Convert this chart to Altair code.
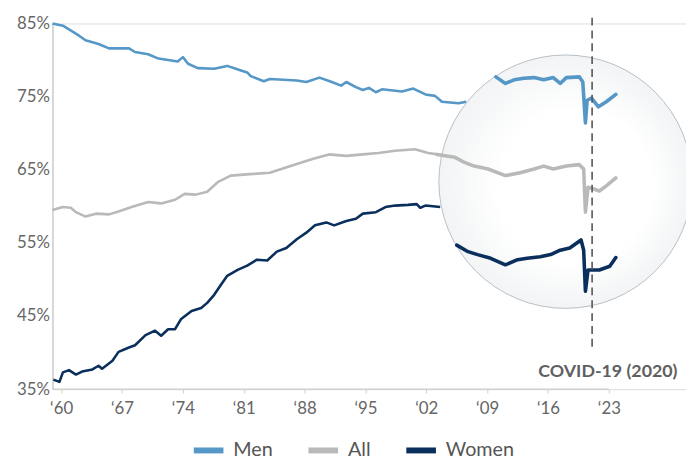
import altair as alt
import pandas as pd

SERIES = ["Men", "All", "Women"]
COLORS = ["#5597c6", "#b9b9b9", "#0a2f5c"]

TICK_YEARS = [1960, 1967, 1974, 1981, 1988, 1995, 2002, 2009, 2016, 2023]
TICK_LABELS = ["‘60", "‘67", "‘74", "‘81", "‘88", "‘95", "‘02", "‘09", "‘16", "‘23"]
Y_TICKS = [35, 45, 55, 65, 75, 85]

# ---- main series ----
MEN_YEARS = [1959.0, 1960.2, 1960.9, 1962.1, 1962.8, 1964.3, 1965.5, 1967.8, 1968.5, 1970.0,
             1971.2, 1973.4, 1974.0, 1974.6, 1975.7, 1977.6, 1979.1, 1980.6, 1981.4, 1981.8,
             1983.3, 1984.0, 1987.1, 1988.2, 1989.7, 1990.9, 1992.2, 1992.8, 1993.9, 1994.7,
             1995.4, 1996.2, 1996.9, 1999.2, 2000.5, 2001.9, 2003.0, 2003.8, 2005.7, 2006.6]
MEN_VALUES = [85.0, 84.7, 84.2, 83.3, 82.7, 82.2, 81.6, 81.6, 81.1, 80.8,
              80.2, 79.8, 80.4, 79.5, 78.9, 78.8, 79.2, 78.6, 78.3, 77.8,
              77.1, 77.4, 77.2, 77.0, 77.6, 77.1, 76.5, 77.0, 76.3, 75.9,
              76.2, 75.6, 76.0, 75.7, 76.1, 75.3, 75.1, 74.3, 74.1, 74.3]

ALL_YEARS = [1959.0, 1960.2, 1961.1, 1961.7, 1962.8, 1964.0, 1965.5, 1966.6, 1968.1, 1970.0,
             1971.5, 1973.1, 1974.2, 1975.5, 1976.8, 1978.0, 1979.5, 1981.7, 1984.0, 1987.1,
             1989.0, 1990.8, 1992.8, 1994.7, 1996.5, 1998.4, 2000.7, 2002.2, 2003.9]
ALL_VALUES = [59.5, 59.9, 59.8, 59.2, 58.6, 59.0, 58.9, 59.3, 59.9, 60.6,
              60.4, 60.9, 61.7, 61.6, 62.0, 63.3, 64.2, 64.4, 64.6, 65.8,
              66.5, 67.1, 66.9, 67.1, 67.3, 67.6, 67.8, 67.3, 67.0]

WOMEN_YEARS = [1959.1, 1959.8, 1960.2, 1960.9, 1961.7, 1962.4, 1963.6, 1964.3, 1964.7, 1965.9,
               1966.6, 1967.8, 1968.5, 1969.7, 1970.8, 1971.5, 1972.3, 1973.1, 1973.8, 1975.0,
               1976.1, 1976.8, 1977.6, 1978.4, 1979.1, 1980.3, 1981.4, 1982.5, 1983.7, 1984.8,
               1985.9, 1987.1, 1988.2, 1989.2, 1990.5, 1991.4, 1992.8, 1993.9, 1994.7, 1996.2,
               1997.3, 1998.4, 1999.9, 2000.9, 2001.3, 2001.9, 2003.6]
WOMEN_VALUES = [36.3, 36.0, 37.3, 37.6, 37.0, 37.4, 37.7, 38.2, 37.8, 38.9,
                40.1, 40.7, 41.0, 42.4, 43.0, 42.3, 43.2, 43.2, 44.6, 45.7,
                46.1, 46.8, 47.9, 49.3, 50.5, 51.3, 51.9, 52.7, 52.6, 53.8,
                54.3, 55.5, 56.4, 57.4, 57.8, 57.4, 58.0, 58.3, 59.0, 59.2,
                59.9, 60.1, 60.2, 60.3, 59.8, 60.1, 59.9]

# ---- magnified series inside the lens ----
MEN_LENS_YEARS = [2010.0, 2011.1, 2012.1, 2013.2, 2014.4, 2015.5, 2016.6, 2017.4, 2018.1, 2019.6,
                  2020.0, 2020.3, 2020.5, 2021.0, 2021.8, 2022.7, 2023.8]
MEN_LENS_VALUES = [77.7, 76.8, 77.3, 77.5, 77.6, 77.3, 77.6, 76.8, 77.6, 77.7,
                   77.0, 71.4, 74.5, 74.8, 73.6, 74.3, 75.3]
ALL_LENS_YEARS = [2003.2, 2005.3, 2006.4, 2007.5, 2009.1, 2011.1, 2012.8, 2014.4, 2015.5, 2016.6,
                  2018.1, 2019.6, 2020.1, 2020.3, 2020.6, 2021.2, 2021.9, 2022.7, 2023.8]
ALL_LENS_VALUES = [67.1, 66.7, 66.0, 65.5, 65.1, 64.2, 64.6, 65.1, 65.5, 65.1,
                   65.5, 65.7, 65.1, 59.2, 62.6, 62.4, 62.1, 62.8, 63.9]
WOMEN_LENS_YEARS = [2005.5, 2006.8, 2007.9, 2009.4, 2011.1, 2012.5, 2013.6, 2015.1, 2016.3, 2017.4,
                    2018.5, 2019.8, 2020.1, 2020.3, 2020.6, 2021.9, 2023.1, 2023.8]
WOMEN_LENS_VALUES = [54.7, 53.8, 53.4, 52.9, 52.0, 52.7, 52.9, 53.1, 53.4, 54.0,
                     54.3, 55.4, 54.0, 48.4, 51.3, 51.3, 51.8, 53.0]

COVID_YEAR = 2021.07
COVID_LABEL = "COVID-19 (2020)"
LENS_CENTER = (2018.02, 63.37)


def frame(name, years, values):
    return pd.DataFrame({"series": name, "year": years, "pct": values,
                         "order": list(range(len(years)))})


main_df = pd.concat([frame("Men", MEN_YEARS, MEN_VALUES),
                     frame("All", ALL_YEARS, ALL_VALUES),
                     frame("Women", WOMEN_YEARS, WOMEN_VALUES)])
lens_df = pd.concat([frame("Men", MEN_LENS_YEARS, MEN_LENS_VALUES),
                     frame("All", ALL_LENS_YEARS, ALL_LENS_VALUES),
                     frame("Women", WOMEN_LENS_YEARS, WOMEN_LENS_VALUES)])

FONT = "Lato"
label_expr = " : ".join(
    f"datum.value == {y} ? '{l}'" for y, l in zip(TICK_YEARS, TICK_LABELS)
) + " : ''"

x_scale = alt.Scale(domain=[1959.0, 2031.87], nice=False, zero=False)
y_scale = alt.Scale(domain=[35, 85], nice=False, zero=False)
color_scale = alt.Scale(domain=SERIES, range=COLORS)

x_axis = alt.Axis(values=TICK_YEARS, labelExpr=label_expr, domain=False, grid=False,
                  ticks=True, tickColor="#cfcfcf", tickSize=4, tickWidth=1,
                  labelFontSize=17, labelColor="#666666", labelFont=FONT,
                  labelPadding=8, title=None)
y_axis = alt.Axis(values=Y_TICKS, labelExpr="datum.value + '%'", grid=False,
                  ticks=False, domain=True, domainColor="#d0d0d0", domainWidth=1.5,
                  labelFontSize=17, labelColor="#666666", labelFont=FONT,
                  labelPadding=3, title=None)
X = alt.X("year:Q", scale=x_scale, axis=x_axis)
Y = alt.Y("pct:Q", scale=y_scale, axis=y_axis)

legend = alt.Legend(orient="none", legendX=140, legendY=414, direction="horizontal",
                    title=None, symbolType="stroke", symbolStrokeWidth=6, symbolSize=900,
                    labelFontSize=20, labelColor="#555555", labelFont=FONT,
                    labelOffset=7, columnPadding=24)
C = alt.Color("series:N", scale=color_scale, legend=legend)

main_lines = alt.Chart(main_df).mark_line(strokeWidth=2.6, strokeJoin="round").encode(
    x=X, y=Y, color=C, detail="series:N", order="order:Q")

lens_df_center = pd.DataFrame({"year": [LENS_CENTER[0]], "pct": [LENS_CENTER[1]]})
lens = alt.Chart(lens_df_center).mark_point(
    shape="circle", size=65740, filled=True, opacity=1,
    fill=alt.RadialGradient(
        gradient="radial",
        stops=[alt.GradientStop(offset=0, color="#ffffff"),
               alt.GradientStop(offset=0.6, color="#ffffff"),
               alt.GradientStop(offset=1, color="#f2f4f5")],
        x1=0.6, y1=0.55, r1=0, x2=0.5, y2=0.5, r2=0.5),
    stroke="#b8bfc5", strokeWidth=1, fillOpacity=1, strokeOpacity=1,
).encode(x=X, y=Y)

lens_lines = alt.Chart(lens_df).mark_line(strokeWidth=3.6, strokeJoin="round",
                                          strokeCap="round").encode(
    x=X, y=Y, color=C, detail="series:N", order="order:Q")

covid_df = pd.DataFrame({"year": [COVID_YEAR], "pct": [85.8], "pct2": [40.8],
                         "textpct": [36.6], "label": [COVID_LABEL]})
covid_rule = alt.Chart(covid_df).mark_rule(color="#555555", strokeWidth=1.6,
                                           strokeDash=[8, 5]).encode(
    x=X, y=Y, y2="pct2:Q")
covid_text = alt.Chart(covid_df).mark_text(
    font=FONT, fontSize=18, fontWeight="bold", color="#5f5f5f",
    align="center", baseline="alphabetic", dx=16).encode(
    x=X, y=alt.Y("textpct:Q", scale=y_scale, axis=y_axis), text="label:N")

axis_df = pd.DataFrame({"year": [1959.0], "year2": [2023.0], "pct": [35.0]})
axis_rule = alt.Chart(axis_df).mark_rule(color="#d0d0d0", strokeWidth=1.5).encode(
    x=X, x2="year2:Q", y=Y)

chart = alt.layer(main_lines, lens, lens_lines, covid_rule, covid_text, axis_rule).properties(
    width=641, height=370,
    autosize=alt.AutoSizeParams(type="none"),
    padding={"left": 45, "top": 13, "right": 0, "bottom": 69},
).configure_view(stroke=None).configure(font=FONT)

chart.save("out.html", embed_options={"renderer": "svg", "actions": False})
